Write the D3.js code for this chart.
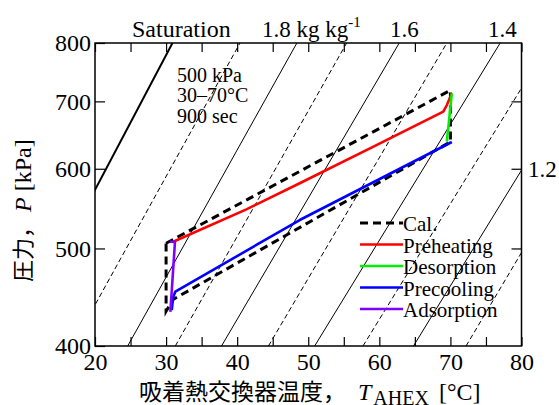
<!DOCTYPE html>
<html>
<head>
<meta charset="utf-8">
<script src="https://cdn.jsdelivr.net/npm/d3@7"></script>
<style>
    body { margin: 0; background: #fff; }
</style>
</head>
<body>
<div id="chart"></div>
<script>
// isolines: temperature where each line meets 400 kPa and 800 kPa
var iso_T400 = [8.4, 16.8, 24.6, 31.3, 37.8, 44.4, 50.9, 57.7, 64.8, 72.2];
var iso_T800 = [30.9, 40.4, 48.4, 55.4, 62.8, 69.5, 77.0, 83.9, 91.0, 97.5];

// measured cycle (T [°C], P [kPa])
var preheat_T = [31.0, 41.3, 48.8, 59.1, 69.0, 69.5, 70.2];
var preheat_P = [507.8, 546.8, 580.4, 630.9, 683.7, 694.2, 713.0];
var desorp_T  = [70.2, 69.5];
var desorp_P  = [713.0, 638.4];
var precool_T = [70.2, 48.8, 31.3, 31.0, 30.8];
var precool_P = [637.9, 533.6, 452.9, 447.5, 434.3];
var adsorp_T  = [30.6, 31.25, 30.55];
var adsorp_P  = [432.4, 507.4, 507.8];

// calculated cycle
var cal_T = [30, 70, 70, 31, 30, 30];
var cal_P = [506, 718, 638, 445, 433, 506];

var x_ticks = [20, 25, 30, 35, 40, 45, 50, 55, 60, 65, 70, 75, 80];
var y_ticks = [400, 500, 600, 700, 800];

var legend_names  = ['Cal.', 'Preheating', 'Desorption', 'Precooling', 'Adsorption'];
var legend_colors = ['#000000', '#ff0000', '#00ee00', '#0000ff', '#8000ff'];

var serif = '"Liberation Serif", "Times New Roman", "DejaVu Serif", serif';
var cjk   = '"Noto Sans CJK JP", sans-serif';

var chart_width  = 559;
var chart_height = 405;

var svg = d3.select( '#chart' )
    .append( 'svg' )
    .attr( 'width', chart_width )
    .attr( 'height', chart_height );

var x_scale = d3.scaleLinear()
    .domain([20, 80])
    .range([95, 521.5]);

var y_scale = d3.scaleLog()
    .domain([400, 800])
    .range([346, 43]);

svg.append( 'clipPath' )
    .attr( 'id', 'plot-clip' )
    .append( 'rect' )
    .attr( 'x', x_scale(20) )
    .attr( 'y', y_scale(800) )
    .attr( 'width', x_scale(80) - x_scale(20) )
    .attr( 'height', y_scale(400) - y_scale(800) );

// isolines
var iso = svg.append( 'g' ).attr( 'clip-path', 'url(#plot-clip)' );
iso.selectAll( 'line' )
    .data( iso_T400 )
    .enter()
    .append( 'line' )
    .attr( 'x1', function( d ){ return x_scale(d); })
    .attr( 'y1', y_scale(400) )
    .attr( 'x2', function( d, i ){ return x_scale(iso_T800[i]); })
    .attr( 'y2', y_scale(800) )
    .attr( 'stroke', '#000' )
    .attr( 'stroke-width', function( d, i ){ return i === 0 ? 2 : 1; })
    .attr( 'stroke-dasharray', function( d, i ){ return i % 2 === 1 ? '5,3' : null; });

// axes
var x_fmt = function( d ){ return d % 10 === 0 ? d : ''; };
var bottom = svg.append( 'g' )
    .attr( 'transform', 'translate(0,' + y_scale(400) + ')' )
    .call( d3.axisBottom(x_scale).tickValues(x_ticks).tickFormat(x_fmt).tickSize(-9).tickPadding(7) );
var top_ax = svg.append( 'g' )
    .attr( 'transform', 'translate(0,' + y_scale(800) + ')' )
    .call( d3.axisTop(x_scale).tickValues(x_ticks).tickFormat('').tickSize(-9) );
var left = svg.append( 'g' )
    .attr( 'transform', 'translate(' + x_scale(20) + ',0)' )
    .call( d3.axisLeft(y_scale).tickValues(y_ticks).tickFormat(d3.format('d')).tickSize(-10).tickPadding(4) );
var right = svg.append( 'g' )
    .attr( 'transform', 'translate(' + x_scale(80) + ',0)' )
    .call( d3.axisRight(y_scale).tickValues([500, 600, 700]).tickFormat('').tickSize(-10) );

[bottom, top_ax, left, right].forEach(function( g ){
    g.select( '.domain' ).remove();
    g.selectAll( 'line' ).attr( 'stroke', '#000' ).attr( 'stroke-width', 1.2 );
    g.selectAll( 'text' )
        .attr( 'font-size', 24 )
        .attr( 'fill', '#000' );
});

svg.append( 'rect' )
    .attr( 'x', x_scale(20) )
    .attr( 'y', y_scale(800) )
    .attr( 'width', x_scale(80) - x_scale(20) )
    .attr( 'height', y_scale(400) - y_scale(800) )
    .attr( 'fill', 'none' )
    .attr( 'stroke', '#000' )
    .attr( 'stroke-width', 1.5 );

// cycle lines
var line = d3.line()
    .x(function( d ){ return x_scale(d[0]); })
    .y(function( d ){ return y_scale(d[1]); });

var zip = function( a, b ){
    return a.map(function( v, i ){ return [v, b[i]]; });
};

var plot = svg.append( 'g' ).attr( 'clip-path', 'url(#plot-clip)' );

plot.append( 'path' )
    .attr( 'd', line( zip(cal_T, cal_P) ) )
    .attr( 'fill', 'none' )
    .attr( 'stroke', legend_colors[0] )
    .attr( 'stroke-width', 3 )
    .attr( 'stroke-dasharray', '8,5' );

var series = [
    zip(preheat_T, preheat_P),
    zip(desorp_T, desorp_P),
    zip(precool_T, precool_P),
    zip(adsorp_T, adsorp_P)
];

plot.selectAll( '.run' )
    .data( series )
    .enter()
    .append( 'path' )
    .attr( 'class', 'run' )
    .attr( 'd', function( d ){ return line(d); })
    .attr( 'fill', 'none' )
    .attr( 'stroke', function( d, i ){ return legend_colors[i + 1]; })
    .attr( 'stroke-width', 2.6 )
    .attr( 'stroke-linejoin', 'round' );

// legend
var legend = svg.append( 'g' );
legend.selectAll( 'line' )
    .data( legend_names )
    .enter()
    .append( 'line' )
    .attr( 'x1', 360 )
    .attr( 'x2', 403 )
    .attr( 'y1', function( d, i ){ return 223 + i * 21.5; })
    .attr( 'y2', function( d, i ){ return 223 + i * 21.5; })
    .attr( 'stroke', function( d, i ){ return legend_colors[i]; })
    .attr( 'stroke-width', function( d, i ){ return i === 0 ? 3 : 2.6; })
    .attr( 'stroke-dasharray', function( d, i ){ return i === 0 ? '8,5' : null; });
legend.selectAll( 'text' )
    .data( legend_names )
    .enter()
    .append( 'text' )
    .text(function( d ){ return d; })
    .attr( 'x', 403 )
    .attr( 'y', function( d, i ){ return 231 + i * 21.5; })
    .attr( 'font-size', 21 );

// condition note
var note = ['500 kPa', '30\u201370\u00b0C', '900 sec'];
svg.selectAll( '.note' )
    .data( note )
    .enter()
    .append( 'text' )
    .attr( 'class', 'note' )
    .text(function( d ){ return d; })
    .attr( 'x', 177 )
    .attr( 'y', function( d, i ){ return 82 + i * 20.3; })
    .attr( 'font-size', 20 );

// isoline labels
svg.append( 'text' ).text( 'Saturation' ).attr( 'x', 132 ).attr( 'y', 37 ).attr( 'font-size', 24 );
var lab18 = svg.append( 'text' ).attr( 'x', 262 ).attr( 'y', 37 ).attr( 'font-size', 23 );
lab18.append( 'tspan' ).text( '1.8 kg kg' );
lab18.append( 'tspan' ).text( '-1' ).attr( 'font-size', 15 ).attr( 'dy', -10 );
svg.append( 'text' ).text( '1.6' ).attr( 'x', 390 ).attr( 'y', 37 ).attr( 'font-size', 23 );
svg.append( 'text' ).text( '1.4' ).attr( 'x', 488 ).attr( 'y', 37 ).attr( 'font-size', 23 );
svg.append( 'text' ).text( '1.2' ).attr( 'x', 528 ).attr( 'y', 177 ).attr( 'font-size', 23 );

// axis titles
var xt = svg.append( 'text' )
    .attr( 'x', 139 )
    .attr( 'y', 400 );
xt.append( 'tspan' ).attr( 'class', 'jp' ).attr( 'font-size', 23 ).text( '吸着熱交換器温度，' );
xt.append( 'tspan' ).attr( 'font-size', 24 ).attr( 'font-style', 'italic' ).attr( 'dx', 12 ).text( 'T' );
xt.append( 'tspan' ).attr( 'font-size', 20 ).attr( 'dx', 2 ).attr( 'dy', 5 ).text( 'AHEX' );
xt.append( 'tspan' ).attr( 'font-size', 24 ).attr( 'dx', 4 ).attr( 'dy', -5 ).text( ' [\u00b0C]' );

var yt = svg.append( 'text' )
    .attr( 'transform', 'translate(31,282) rotate(-90)' );
yt.append( 'tspan' ).attr( 'class', 'jp' ).attr( 'font-size', 22 ).text( '圧力，' );
yt.append( 'tspan' ).attr( 'font-size', 24 ).attr( 'font-style', 'italic' ).attr( 'dx', 4 ).text( 'P' );
yt.append( 'tspan' ).attr( 'font-size', 24 ).text( ' [kPa]' );

// fonts
svg.selectAll( 'text' ).style( 'font-family', serif ).style( 'fill', '#000' );
svg.selectAll( '.jp' ).style( 'font-family', cjk );
</script>
</body>
</html>
